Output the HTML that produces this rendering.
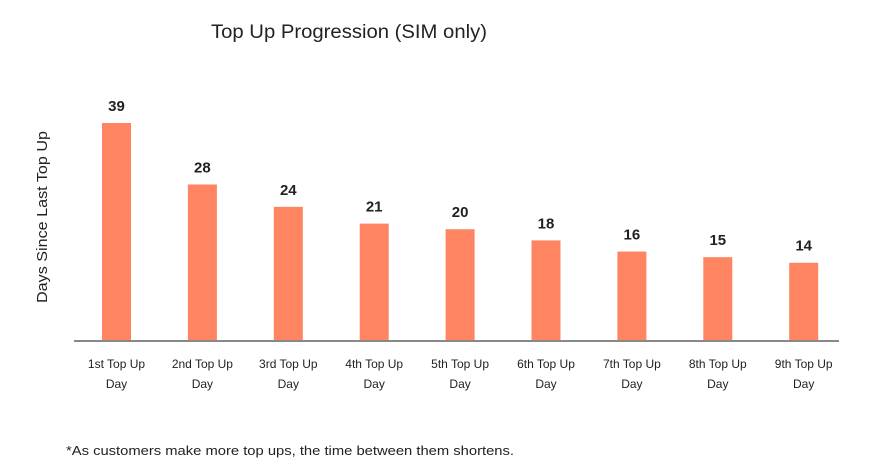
<!DOCTYPE html>
<html><head><meta charset="utf-8"><style>
body{margin:0;background:#fff;font-family:"Liberation Sans",sans-serif;}
svg{display:block}
</style></head><body>
<svg id="chart" width="874" height="465">
<text x="211" y="38" textLength="276" lengthAdjust="spacingAndGlyphs" font-size="19" fill="#222">Top Up Progression (SIM only)</text>
<text transform="translate(47,217) rotate(-90)" text-anchor="middle" textLength="172" lengthAdjust="spacingAndGlyphs" font-size="15" fill="#222">Days Since Last Top Up</text>
<g id="bars"></g>
<line x1="74" y1="341" x2="839" y2="341" stroke="#888" stroke-width="2"/>
<text x="66" y="455" textLength="448" lengthAdjust="spacingAndGlyphs" font-size="13" fill="#222">*As  customers make more top ups, the time between them shortens.</text>
</svg>
<script>
const categories=["1st Top Up","2nd Top Up","3rd Top Up","4th Top Up","5th Top Up","6th Top Up","7th Top Up","8th Top Up","9th Top Up"];
const values=[39,28,24,21,20,18,16,15,14];
const ns="http://www.w3.org/2000/svg";
const g=document.getElementById('bars');
const base=341,scale=218/39,x0=116.5,step=85.9,bw=29;
function xPos(i){return x0+i*step;}
function yPos(v){return base-v*scale;}
categories.forEach((c,i)=>{
  const cx=xPos(i),y=yPos(values[i]);
  const r=document.createElementNS(ns,'rect');
  r.setAttribute('x',cx-bw/2);r.setAttribute('y',y);r.setAttribute('width',bw);r.setAttribute('height',base-y);r.setAttribute('fill','#FF8562');
  
  
  g.appendChild(r);
  const t=document.createElementNS(ns,'text');
  t.setAttribute('x',cx);t.setAttribute('y',y-12);t.setAttribute('text-anchor','middle');t.setAttribute('font-size','15');t.setAttribute('font-weight','bold');t.setAttribute('fill','#222');
  t.textContent=values[i];
  
  
  g.appendChild(t);
  const l1=document.createElementNS(ns,'text');
  l1.setAttribute('x',cx);l1.setAttribute('y',368);l1.setAttribute('text-anchor','middle');l1.setAttribute('font-size','12');l1.setAttribute('fill','#222');
  l1.textContent=c;
  
  
  g.appendChild(l1);
  const l2=document.createElementNS(ns,'text');
  l2.setAttribute('x',cx);l2.setAttribute('y',388);l2.setAttribute('text-anchor','middle');l2.setAttribute('font-size','12');l2.setAttribute('fill','#222');
  l2.textContent='Day';
  
  
  g.appendChild(l2);
});
</script>
</body></html>
